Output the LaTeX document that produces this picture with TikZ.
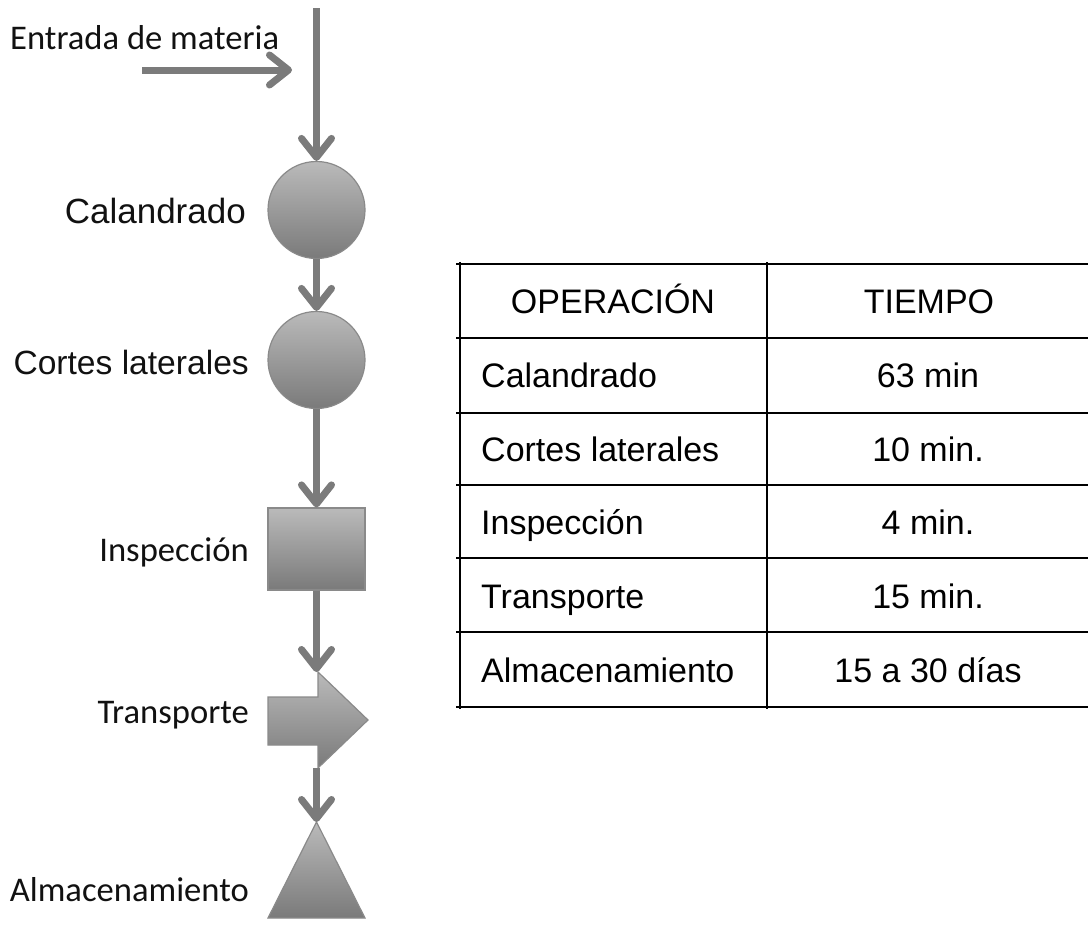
\documentclass[tikz,border=0pt]{standalone}
\usepackage{fontspec}
\setmainfont{Liberation Sans}
\newfontfamily\calfont{Carlito}
\newfontfamily\arifont{Liberation Sans}
\usetikzlibrary{arrows.meta}
\definecolor{flowgray}{HTML}{7B7B7B}
\definecolor{shapetop}{HTML}{BABABA}
\definecolor{shapebot}{HTML}{7A7A7A}
\definecolor{shapeedge}{HTML}{8A8A8A}
\definecolor{txt}{HTML}{111111}
\tikzset{
  flow/.style={draw=flowgray, line width=7pt,
    -{Straight Barb[length=19pt,width=30pt,round]}},
  gshape/.style={top color=shapetop, bottom color=shapebot, draw=shapeedge, line width=1.2pt},
  lblcal/.style={font=\calfont\fontsize{34.6}{40}\selectfont, text=txt, inner sep=0pt, anchor=base east},
  lblari/.style={font=\arifont\fontsize{35}{40}\selectfont, text=txt, inner sep=0pt, anchor=base east},
  celltxt/.style={font=\arifont\fontsize{34}{40}\selectfont, text=black, inner sep=0pt},
  grid/.style={draw=black, line width=2pt}
}
\begin{document}
\begin{tikzpicture}[x=1pt,y=-1pt]
\useasboundingbox (0,0) rectangle (1088,926);

% shapes
\node[circle, gshape, minimum size=97pt, inner sep=0pt] (c1) at (316.5,210) {};
\node[circle, gshape, minimum size=97pt, inner sep=0pt] (c2) at (316.5,360) {};
\node[rectangle, gshape, minimum width=97pt, minimum height=82pt, inner sep=0pt] (ins) at (316.5,549) {};
\shade[gshape] (268,697) -- (318,697) -- (318,672) -- (368,720) -- (318,768) -- (318,745) -- (268,745) -- cycle;
\node[inner sep=0pt, minimum width=100pt, minimum height=96pt] (tr) at (318,720) {};
\shade[gshape] (316.5,822) -- (365,918) -- (268,918) -- cycle;
\coordinate (top) at (316.5,8);
\coordinate (trtop) at (316.5,672);
\coordinate (trbot) at (316.5,768);
\coordinate (apex) at (316.5,822);
\coordinate (entryA) at (142,70);
\coordinate (entryB) at (292,70);

% connectors
\draw[flow] (top) -- (c1.north);
\draw[flow] (entryA) -- (entryB);
\draw[flow] (c1.south) -- (c2.north);
\draw[flow] (c2.south) -- (ins.north);
\draw[flow] (ins.south) -- (trtop);
\draw[flow] (trbot) -- (apex);

% labels
\node[lblcal, anchor=base west] (lent) at (10,49) {Entrada de materia};
\node[lblari] (lcal) at (246,223) {Calandrado};
\node[lblari, font=\arifont\fontsize{33.6}{40}\selectfont] (lcor) at (249,374) {Cortes laterales};
\node[lblcal] (lins) at (249,561) {Inspección};
\node[lblcal] (ltra) at (249,723) {Transporte};
\node[lblcal] (lalm) at (249,901) {Almacenamiento};

% table
\foreach \yy in {264,338,413,485,558,632,707} {
  \draw[grid] (456,\yy) -- (1090,\yy);
}
\draw[grid] (460,262) -- (460,709);
\draw[grid] (767,262) -- (767,709);

\node[celltxt, anchor=base] (h1) at (613,313) {OPERACIÓN};
\node[celltxt, anchor=base] (h2) at (929,313) {TIEMPO};
\node[celltxt, anchor=base west] (r1a) at (481,387) {Calandrado};
\node[celltxt, anchor=base] (r1b) at (928,387) {63 min};
\node[celltxt, anchor=base west] (r2a) at (481,461) {Cortes laterales};
\node[celltxt, anchor=base] (r2b) at (928,461) {10 min.};
\node[celltxt, anchor=base west] (r3a) at (481,534) {Inspección};
\node[celltxt, anchor=base] (r3b) at (928,534) {4 min.};
\node[celltxt, anchor=base west] (r4a) at (481,608) {Transporte};
\node[celltxt, anchor=base] (r4b) at (928,608) {15 min.};
\node[celltxt, anchor=base west] (r5a) at (481,682) {Almacenamiento};
\node[celltxt, anchor=base] (r5b) at (928,682) {15 a 30 días};
\end{tikzpicture}
\end{document}
